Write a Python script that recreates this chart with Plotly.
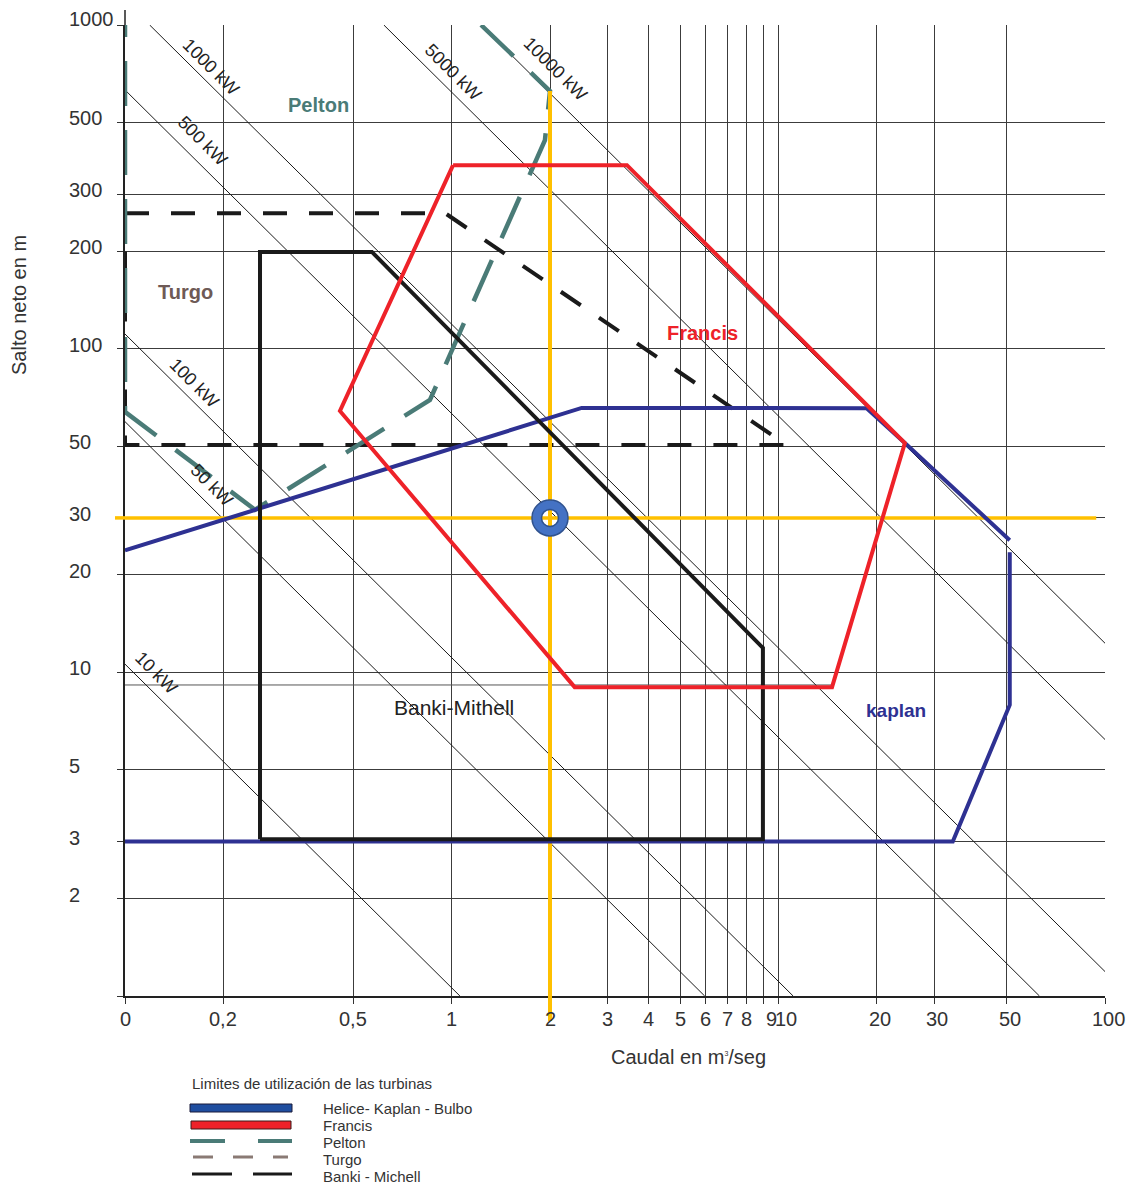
import numpy as np
import plotly.graph_objects as go

# ---------------- data ----------------
Q_RANGE = [0.1, 100]      # caudal m3/s (log axis)
H_RANGE = [1, 1000]       # salto m (log axis)

x_tick_values = [0.1, 0.2, 0.5, 1, 2, 3, 4, 5, 6, 7, 8, 9, 10, 20, 30, 50, 100]
x_tick_text = ["0", "0,2", "0,5", "1", "2", "3", "4", "5", "6", "7", "8", "9", "10", "20", "30", "50", "100"]
y_grid_values = [1, 2, 3, 5, 10, 20, 30, 50, 100, 200, 300, 500, 1000]
y_tick_values = [2, 3, 5, 10, 20, 30, 50, 100, 200, 300, 500, 1000]
y_tick_text = ["2", "3", "5", "10", "20", "30", "50", "100", "200", "300", "500", "1000"]
extra_line_H = 9.14
extra_line_Q = [0.1, 14.6]

power_names = ["10 kW", "50 kW", "100 kW", "500 kW", "1000 kW", "5000 kW", "10000 kW"]
power_QH = [1.06, 5.95, 11.1, 63, 119, 620, 1230]
power_label_Q = [0.125, 0.184, 0.163, 0.173, 0.183, 1.01, 2.08]

kaplan_Q = [0.1, 2.5, 18.6, 24.4, 51.1, None, 51.1, 51.1, 34.2, 0.1]
kaplan_H = [23.8, 65.6, 65.5, 51.1, 25.6, None, 23.5, 7.93, 3.0, 3.0]

francis_Q = [1.01, 3.44, 24.4, 14.6, 2.38, 2.04, 0.455, 1.01]
francis_H = [369, 369, 51.1, 9.0, 9.0, 10.8, 64.2, 369]

banki_Q = [0.259, 0.259, 0.570, 8.97, 8.97, 0.259]
banki_H = [3.05, 199, 199, 11.9, 3.05, 3.05]

turgo_Q = [0.1, 0.956, 10.6, 0.1, 0.1]
turgo_H = [262, 262, 50.4, 50.4, 262]

pelton_Q = [1.23, 2.0, 1.93, 0.858, 0.25, 0.1, 0.1]
pelton_H = [1000, 625, 441, 69.4, 31.8, 63.8, 1000]

design_Q = 2.0
design_H = 30
design_v_top_H = 625
design_h_end_Q = 94

region_text = ["Pelton", "Turgo", "Francis", "kaplan", "Banki-Mithell"]
region_Q = [0.39, 0.153, 5.84, 22.9, 1.02]
region_H = [566, 150, 112, 7.6, 7.76]

legend_title = "Limites de utilización de las turbinas"
legend_names = ["Helice- Kaplan - Bulbo", "Francis", "Pelton", "Turgo", "Banki - Michell"]

# ---------------- styles / geometry ----------------
OFF = 8                       # page body margin
W, HGT = 1135 - OFF, 1186 - OFF
ML, MT = 125 - OFF, 25 - OFF
PW, PH = 980, 971
MR, MB = W - ML - PW, HGT - MT - PH
FONT = "Liberation Sans, Arial, sans-serif"
BLUE = "#2e3192"
RED = "#ee2229"
TEAL = "#4a7b77"
BROWN = "#8a7a74"
YELLOW = "#ffc000"


def px(xp):
    """page pixel x -> paper"""
    return (xp - OFF - ML) / PW


def py(yp):
    """page pixel y -> paper"""
    return (HGT - MB - (yp - OFF)) / PH


fig = go.Figure()


def line_trace(x, y, color, width, dash=None):
    ln = dict(color=color, width=width)
    if dash:
        ln["dash"] = dash
    return go.Scatter(x=x, y=y, mode="lines", line=ln, hoverinfo="skip", showlegend=False)


# stray extra horizontal line near 10
fig.add_trace(line_trace(extra_line_Q, [extra_line_H] * 2, "#555", 1))

# power lines
for name, c in zip(power_names, power_QH):
    q0 = max(Q_RANGE[0], c / H_RANGE[1])
    q1 = min(Q_RANGE[1], c / H_RANGE[0])
    fig.add_trace(line_trace([q0, q1], [c / q0, c / q1], "#1a1a1a", 1))

# turgo / pelton
fig.add_trace(line_trace(turgo_Q, turgo_H, "#1a1a1a", 4, "24px,22px"))
fig.add_trace(line_trace(pelton_Q, pelton_H, TEAL, 4.5, "45px,24px"))

# yellow design lines (inside plot)
fig.add_trace(line_trace([design_Q, design_Q], [H_RANGE[0], design_v_top_H], YELLOW, 4))
fig.add_trace(line_trace([Q_RANGE[0], design_h_end_Q], [design_H, design_H], YELLOW, 3.5))

# other regions
fig.add_trace(line_trace(kaplan_Q, kaplan_H, BLUE, 4))
fig.add_trace(line_trace(banki_Q, banki_H, "#1a1a1a", 4))
fig.add_trace(line_trace(francis_Q, francis_H, RED, 4))

# design point ring
fig.add_trace(go.Scatter(x=[design_Q], y=[design_H], mode="markers",
                         marker=dict(symbol="circle-open", size=26, color="#4472c4", line=dict(width=9.5, color="#4472c4")),
                         hoverinfo="skip", showlegend=False))
fig.add_trace(go.Scatter(x=[design_Q], y=[design_H], mode="markers",
                         marker=dict(symbol="circle-open", size=36, color="#2f528f", line=dict(width=1.5, color="#2f528f")),
                         hoverinfo="skip", showlegend=False))
fig.add_trace(go.Scatter(x=[design_Q], y=[design_H], mode="markers",
                         marker=dict(symbol="circle-open", size=17, color="#2f528f", line=dict(width=1.5, color="#2f528f")),
                         hoverinfo="skip", showlegend=False))

annotations = []
shapes = []

# y tick labels (left aligned)
for v, t in zip(y_tick_values, y_tick_text):
    annotations.append(dict(x=px(67), xref="paper", y=np.log10(v), yref="y", text=t, showarrow=False,
                            xanchor="left", yanchor="middle", yshift=6 if v == 1000 else 4,
                            font=dict(family=FONT, size=20, color="#333")))
# x tick labels
for v, t in zip(x_tick_values, x_tick_text):
    annotations.append(dict(x=np.log10(v), xref="x", y=py(1019), yref="paper", text=t, showarrow=False,
                            xanchor="center", yanchor="middle",
                            xshift=8 if 9 <= v <= 10 else (3 if v > 10 else 0),
                            font=dict(family=FONT, size=20, color="#333")))
# axis titles
annotations.append(dict(x=px(688), y=py(1057), xref="paper", yref="paper",
                        text="Caudal en m<sup><span style='font-size:7px'>3</span></sup>/seg",
                        showarrow=False, xanchor="center", yanchor="middle",
                        font=dict(family=FONT, size=20, color="#333")))
annotations.append(dict(x=px(19), y=py(305), xref="paper", yref="paper", text="Salto neto en m", textangle=-90,
                        showarrow=False, xanchor="center", yanchor="middle",
                        font=dict(family=FONT, size=20, color="#333")))

# power line labels
power_label_shift = [23, 22, 20, 26, 18, 22, 30]
for name, c, ql, sh in zip(power_names, power_QH, power_label_Q, power_label_shift):
    annotations.append(dict(x=np.log10(ql), y=np.log10(c / ql), xref="x", yref="y", text=name, textangle=45,
                            showarrow=False, yshift=sh, xanchor="center", yanchor="middle",
                            font=dict(family=FONT, size=18, color="#222")))

# region labels
region_style = [(TEAL, 20, True), ("#6e5a56", 20, True), (RED, 20, True), (BLUE, 19, True), ("#222", 21, False)]
for t, q, h, (col, sz, bold) in zip(region_text, region_Q, region_H, region_style):
    annotations.append(dict(x=np.log10(q), y=np.log10(h), xref="x", yref="y",
                            text=f"<b>{t}</b>" if bold else t, showarrow=False,
                            xanchor="center", yanchor="middle",
                            font=dict(family=FONT, size=sz, color=col)))

# axis top extension & yellow extensions beyond plot
shapes.append(dict(type="line", xref="paper", yref="paper", x0=0, x1=0, y0=1, y1=py(10),
                   line=dict(color="#222", width=1.5)))
xq = (np.log10(design_Q) - np.log10(Q_RANGE[0])) / (np.log10(Q_RANGE[1]) - np.log10(Q_RANGE[0]))
shapes.append(dict(type="line", xref="paper", yref="paper", x0=xq, x1=xq, y0=0, y1=py(1021),
                   line=dict(color=YELLOW, width=4)))
yh = (np.log10(design_H) - np.log10(H_RANGE[0])) / (np.log10(H_RANGE[1]) - np.log10(H_RANGE[0]))
shapes.append(dict(type="line", xref="paper", yref="paper", x0=px(115), x1=0, y0=yh, y1=yh,
                   line=dict(color=YELLOW, width=3.5)))

# custom legend
annotations.append(dict(x=px(190), y=py(1083), xref="paper", yref="paper", text=legend_title, showarrow=False,
                        xanchor="left", yanchor="middle", font=dict(family=FONT, size=15, color="#333")))
leg_y = [1108, 1125, 1142, 1159, 1176]
for name, yy in zip(legend_names, leg_y):
    annotations.append(dict(x=px(321), y=py(yy), xref="paper", yref="paper", text=name, showarrow=False,
                            xanchor="left", yanchor="middle", font=dict(family=FONT, size=15, color="#333")))
shapes.append(dict(type="rect", xref="paper", yref="paper", x0=px(190), x1=px(292), y0=py(1112), y1=py(1104),
                   fillcolor="#1f4ea0", line=dict(color="#1a1a3a", width=1)))
shapes.append(dict(type="rect", xref="paper", yref="paper", x0=px(191), x1=px(291), y0=py(1129), y1=py(1121),
                   fillcolor=RED, line=dict(color="#3a1a1a", width=1)))
shapes.append(dict(type="line", xref="paper", yref="paper", x0=px(190), x1=px(292), y0=py(1141), y1=py(1141),
                   line=dict(color=TEAL, width=4, dash="35px,33px")))
shapes.append(dict(type="line", xref="paper", yref="paper", x0=px(193), x1=px(288), y0=py(1157), y1=py(1157),
                   line=dict(color=BROWN, width=3, dash="20px,20px")))
shapes.append(dict(type="line", xref="paper", yref="paper", x0=px(192), x1=px(292), y0=py(1174), y1=py(1174),
                   line=dict(color="#1a1a1a", width=3, dash="40px,21px")))

axis_common = dict(type="log", showgrid=True, gridcolor="#3c3c3c", gridwidth=1.2, showline=True,
                   linecolor="#222", linewidth=1.5, ticks="outside", ticklen=6, tickcolor="#333",
                   showticklabels=False, zeroline=False)

fig.update_layout(
    width=W, height=HGT,
    margin=dict(l=ML, r=MR, t=MT, b=MB, pad=0),
    paper_bgcolor="white", plot_bgcolor="white",
    xaxis=dict(range=[np.log10(Q_RANGE[0]), np.log10(Q_RANGE[1])], tickvals=x_tick_values, **axis_common),
    yaxis=dict(range=[np.log10(H_RANGE[0]), np.log10(H_RANGE[1])], tickvals=y_grid_values, **axis_common),
    annotations=annotations,
    shapes=shapes,
    showlegend=False,
)

fig.write_html("out.html")
